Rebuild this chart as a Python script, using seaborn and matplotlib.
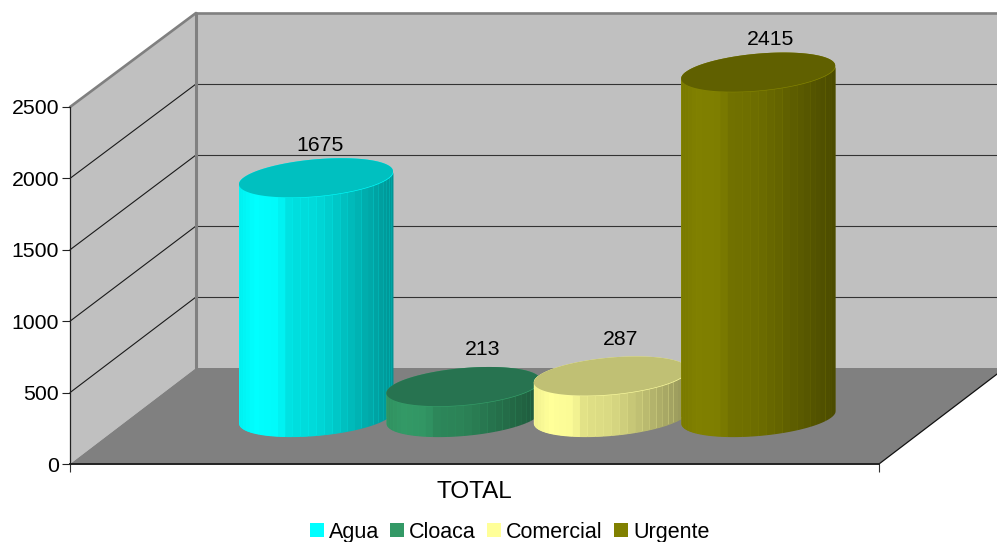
import numpy as np
import matplotlib
matplotlib.use("Agg")
import matplotlib.pyplot as plt
from matplotlib.colors import to_rgb
from matplotlib.patches import Polygon
import seaborn as sns

categories = ["Agua", "Cloaca", "Comercial", "Urgente"]
values = [1675, 213, 287, 2415]
y_ticks = [0, 500, 1000, 1500, 2000, 2500]
group_label = "TOTAL"

colors = ["#00FFFF", "#339966", "#FFFF99", "#808000"]
top_colors = ["#00C0C0", "#277350", "#C0C074", "#606000"]
# label shift from the top centre of each cylinder, in pixels
label_nudge = [(4, 32), (19, 37), (10, 37), (12, 33)]

W, H = 997, 542
X0, X1, Y0 = 70, 879, 464      # front edge of the floor
PX_PER_UNIT = 357 / 2500
BACK_PX_PER_UNIT = 355 / 2500
DEPTH_X, DEPTH_Y = 126, 96
BACK_Y0 = Y0 - DEPTH_Y
BACK_X0 = X0 + DEPTH_X
BASE_Y = 417                    # pixel row of the cylinder base centre
STEP_X = 147.4                  # pixels between cylinders
FIRST_X = 316
FACETS = 30

sns.set_theme(style="white")
plt.rcParams["font.family"] = ["Liberation Sans", "DejaVu Sans"]
plt.rcParams["text.color"] = "black"
FONT = 15.3


def axes_from_pixels(fig, left, top, right, bottom):
    return fig.add_axes([left / W, 1 - bottom / H, (right - left) / W, (bottom - top) / H])


def shade(u):
    # bright on the left, darker to the right
    return np.interp(u, [-1, -0.8, -0.5, -0.35, 0, 1], [0.94, 1.0, 0.98, 0.88, 0.85, 0.58])


fig = plt.figure(figsize=(W / 100, H / 100), dpi=100, facecolor="white")

# walls and floor, in pixel coordinates
frame = fig.add_axes([0, 0, 1, 1], zorder=0)
frame.set_xlim(0, W)
frame.set_ylim(H, 0)
frame.set_axis_off()
top_back = BACK_Y0 - 2500 * BACK_PX_PER_UNIT
top_front = Y0 - 2500 * PX_PER_UNIT
right_back = X1 + DEPTH_X
frame.add_patch(Polygon([(X0, top_front), (BACK_X0, top_back), (BACK_X0, BACK_Y0), (X0, Y0)], fc="#C0C0C0", ec="none"))
frame.add_patch(Polygon([(BACK_X0, top_back), (right_back, top_back), (right_back, BACK_Y0), (BACK_X0, BACK_Y0)], fc="#C0C0C0", ec="none"))
frame.add_patch(Polygon([(X0, Y0), (BACK_X0, BACK_Y0), (right_back, BACK_Y0), (X1, Y0)], fc="#808080", ec="none"))
for v in y_ticks[1:-1]:
    back_y = BACK_Y0 - v * BACK_PX_PER_UNIT
    frame.plot([X0, BACK_X0], [Y0 - v * PX_PER_UNIT, back_y], color="#1a1a1a", lw=0.8)
    frame.plot([BACK_X0, right_back], [back_y, back_y], color="#333333", lw=0.8)
frame.plot([X0, BACK_X0], [top_front, top_back], color="#808080", lw=1.9)
frame.plot([BACK_X0, right_back], [top_back, top_back], color="#808080", lw=1.9)
frame.plot([BACK_X0, BACK_X0], [top_back, BACK_Y0], color="#808080", lw=2.2)
frame.plot([X1, right_back], [Y0, BACK_Y0], color="#111111", lw=0.9)

# front axis with the ticks
ax_front = axes_from_pixels(fig, X0, top_front, X1, Y0)
ax_front.set_zorder(1)
ax_front.patch.set_visible(False)
ax_front.set_xlim(0, 1)
ax_front.set_ylim(0, 2500)
ax_front.set_yticks(y_ticks)
ax_front.set_xticks([0.5], [group_label])
ax_front.set_xticks([0, 1], minor=True)
ax_front.tick_params(axis="y", left=True, length=5.5, width=0.8, color="#222222", labelsize=FONT, pad=2.5, labelcolor="black")
ax_front.tick_params(axis="x", which="major", length=0, labelsize=17.5, pad=12.5, labelcolor="black")
ax_front.tick_params(axis="x", which="minor", bottom=True, length=5.5, width=0.8, color="#333333")
for side in ["top", "right"]:
    ax_front.spines[side].set_visible(False)
ax_front.spines["left"].set_color("#222222")
ax_front.spines["left"].set_linewidth(0.9)
ax_front.spines["bottom"].set_color("#222222")
ax_front.spines["bottom"].set_linewidth(1.4)

# cylinders stand on a plane half way back on the floor
cyl_left = FIRST_X - STEP_X
ax = axes_from_pixels(fig, cyl_left, BASE_Y - 2500 * PX_PER_UNIT, cyl_left + 5 * STEP_X, BASE_Y)
ax.set_zorder(2)
sns.barplot(x=categories, y=values, hue=categories, palette=colors, saturation=1,
            width=154 / STEP_X, dodge=False, legend=True, ax=ax, linewidth=0)
ax.set_xlim(-1, 4)
ax.set_ylim(0, 2500)
ax.set_axis_off()

half_h = 18.5 / PX_PER_UNIT     # ellipse half height, value units
tilt = 6.5 / PX_PER_UNIT        # rise of the ellipse at its right end, value units
theta = np.linspace(np.pi, 0, 121)
for i, (bar, val) in enumerate(zip(ax.patches[:len(values)], values)):
    cx = bar.get_x() + bar.get_width() / 2
    hw = bar.get_width() / 2
    z = 3 + i
    rgb = np.array(to_rgb(colors[i]))
    u = np.cos(theta)
    outline = np.r_[np.c_[cx + hw * u, tilt * u - half_h * np.sin(theta)],
                    np.c_[cx + hw * u[::-1], val + tilt * u[::-1] + half_h * np.sin(theta[::-1])]]
    bar.set_zorder(z)
    bar.set_clip_path(Polygon(outline, transform=ax.transData))
    # silhouette under the facets, it shows through as thin light seams
    ax.fill(outline[:, 0], outline[:, 1], color=np.minimum(rgb * 1.05, 1), lw=0, zorder=z, clip_on=False)
    edges = np.cos(np.linspace(np.pi, 0, FACETS + 1))
    for a, b in zip(edges[:-1], edges[1:]):
        us = np.linspace(a, b, 8)
        low = tilt * us - half_h * np.sqrt(1 - us ** 2)
        ax.fill_between(cx + hw * us, low, low + val, color=rgb * shade((a + b) / 2), lw=0, zorder=z, clip_on=False)
    t = np.linspace(0, 2 * np.pi, 181)
    ax.fill(cx + hw * np.cos(t), val + tilt * np.cos(t) + half_h * np.sin(t), color=top_colors[i], lw=0, zorder=z, clip_on=False)
    dx, dy = label_nudge[i]
    ax.annotate(str(val), (cx, val), xytext=(dx * 0.72, dy * 0.72), textcoords="offset points",
                ha="center", va="center", fontsize=FONT, color="black", zorder=20, annotation_clip=False)

sns.move_legend(ax, "lower center", bbox_to_anchor=(509.5 / W, -0.001), bbox_transform=fig.transFigure,
                ncol=4, frameon=False, title=None, fontsize=15.5, handlelength=0.65, handleheight=0.65,
                handletextpad=0.25, columnspacing=0.5, borderpad=0, borderaxespad=0, labelcolor="black")

fig.savefig("out.png", dpi=100)
